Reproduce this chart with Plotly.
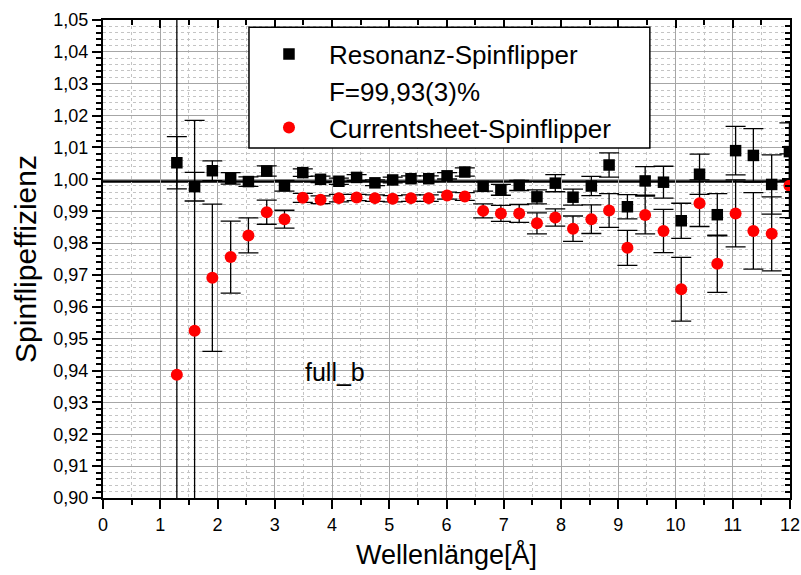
import plotly.graph_objects as go

# Wavelength bins [Å]
wavelength = [1.29, 1.60, 1.91, 2.23, 2.54, 2.86, 3.17, 3.49, 3.80, 4.12,
              4.43, 4.75, 5.06, 5.38, 5.69, 6.01, 6.32, 6.64, 6.95, 7.27,
              7.58, 7.90, 8.21, 8.53, 8.84, 9.16, 9.47, 9.79, 10.10, 10.42,
              10.73, 11.05, 11.36, 11.68, 11.99]

# Resonance spin flipper efficiency and uncertainty
res_eff = [1.0052, 0.9977, 1.0027, 1.0003, 0.9993, 1.0026, 0.9980, 1.0021, 1.0000, 0.9994,
           1.0006, 0.9989, 0.9998, 1.0002, 1.0002, 1.0011, 1.0023, 0.9978, 0.9967, 0.9981,
           0.9945, 0.9988, 0.9944, 0.9979, 1.0045, 0.9914, 0.9995, 0.9991, 0.9870, 1.0016,
           0.9889, 1.0090, 1.0075, 0.9984, 1.0087]
res_err = [0.0082, 0.0045, 0.0031, 0.0018, 0.0015, 0.0016, 0.0017, 0.0012, 0.0010, 0.0010,
           0.0009, 0.0009, 0.0009, 0.0009, 0.0009, 0.0010, 0.0013, 0.0015, 0.0017, 0.0016,
           0.0022, 0.0027, 0.0025, 0.0030, 0.0038, 0.0038, 0.0045, 0.0050, 0.0055, 0.0063,
           0.0066, 0.0076, 0.0084, 0.0093, 0.0090]

# Current-sheet spin flipper efficiency and uncertainty
cs_eff = [0.9387, 0.9525, 0.9691, 0.9756, 0.9824, 0.9897, 0.9875, 0.9942, 0.9936, 0.9941,
          0.9943, 0.9941, 0.9939, 0.9941, 0.9941, 0.9949, 0.9946, 0.9901, 0.9893, 0.9893,
          0.9862, 0.9880, 0.9845, 0.9875, 0.9902, 0.9785, 0.9888, 0.9838, 0.9655, 0.9925,
          0.9735, 0.9893, 0.9838, 0.9829, 0.9980]
cs_err = [0.1200, 0.0660, 0.0231, 0.0113, 0.0055, 0.0038, 0.0028, 0.0014, 0.0012, 0.0012,
          0.0010, 0.0010, 0.0010, 0.0010, 0.0010, 0.0011, 0.0012, 0.0022, 0.0025, 0.0028,
          0.0033, 0.0027, 0.0040, 0.0045, 0.0053, 0.0055, 0.0059, 0.0068, 0.0100, 0.0073,
          0.0090, 0.0105, 0.0120, 0.0116, 0.0100]

# Mean resonance flipper efficiency F = 99,93(3) %
F_RES = 0.9993
F_LABEL = "F=99,93(3)%"

FONT = "Liberation Sans, Arial, sans-serif"
X_RANGE = [0, 12]
Y_RANGE = [0.90, 1.05]

fig = go.Figure()

fig.add_trace(go.Scatter(
    x=wavelength, y=res_eff, mode="markers", name="Resonanz-Spinflipper",
    marker=dict(symbol="square", size=11.5, color="black"),
    error_y=dict(type="data", array=res_err, color="black", thickness=1.3, width=10),
))
fig.add_trace(go.Scatter(
    x=[None], y=[None], mode="markers", name=F_LABEL,
    marker=dict(size=11, color="rgba(0,0,0,0)"),
))
fig.add_trace(go.Scatter(
    x=wavelength, y=cs_eff, mode="markers", name="Currentsheet-Spinflipper",
    marker=dict(symbol="circle", size=12, color="red"),
    error_y=dict(type="data", array=cs_err, color="black", thickness=1.3, width=10),
))
# empty trace so the mirrored top/right axes get drawn
fig.add_trace(go.Scatter(x=[], y=[], xaxis="x2", yaxis="y2", showlegend=False, hoverinfo="skip"))

# mean efficiency line
fig.add_shape(type="line", xref="paper", x0=0, x1=1, yref="y", y0=F_RES, y1=F_RES,
              line=dict(color="black", width=2.5), layer="between")

# legend frame
fig.add_shape(type="rect", xref="paper", yref="paper",
              x0=0.2125, x1=0.796, y0=0.732, y1=0.985,
              line=dict(color="black", width=1.5), fillcolor="white", layer="above")

fig.add_annotation(x=4.06, y=0.9396, xref="x", yref="y", text="full_b", showarrow=False,
                   xanchor="center", yanchor="middle", font=dict(size=25, color="black", family=FONT))

grid_major = "#a6a6a6"
grid_minor = "#c4c4c4"

fig.update_layout(
    width=801, height=575,
    margin=dict(l=103, r=11, t=20, b=77, autoexpand=False),
    paper_bgcolor="white", plot_bgcolor="white",
    separators=",.",
    font=dict(family=FONT, color="black", size=18),
    showlegend=True,
    legend=dict(
        x=0.2125, y=0.978, xanchor="left", yanchor="top",
        bgcolor="rgba(0,0,0,0)", borderwidth=0,
        font=dict(size=26, family=FONT, color="black"),
        itemwidth=70, tracegroupgap=0,
    ),
    xaxis=dict(
        range=X_RANGE, dtick=1, tick0=0, automargin=False,
        showline=True, linecolor="black", linewidth=2,
        ticks="outside", ticklen=9, tickwidth=2, tickcolor="black",
        showgrid=True, gridcolor=grid_major, gridwidth=1,
        zeroline=False,
        minor=dict(dtick=0.5, ticks="outside", ticklen=5, tickwidth=1.5, tickcolor="black",
                   showgrid=True, gridcolor=grid_minor, griddash="dot", gridwidth=1),
        tickfont=dict(size=18),
        title=dict(text="Wellenlänge[Å]", font=dict(size=27), standoff=12),
    ),
    yaxis=dict(
        range=Y_RANGE, dtick=0.01, tick0=0.9, tickformat=".2f", automargin=False,
        showline=True, linecolor="black", linewidth=2,
        ticks="outside", ticklen=9, tickwidth=2, tickcolor="black",
        showgrid=True, gridcolor=grid_major, gridwidth=1,
        zeroline=False,
        minor=dict(dtick=0.002, ticks="outside", ticklen=5, tickwidth=1.5, tickcolor="black",
                   showgrid=True, gridcolor=grid_minor, griddash="dot", gridwidth=1),
        tickfont=dict(size=18),
        title=dict(text="Spinflipeffizienz", font=dict(size=30), standoff=8),
    ),
    xaxis2=dict(
        range=X_RANGE, dtick=1, tick0=0, overlaying="x", side="top", anchor="y2", automargin=False,
        showline=True, linecolor="black", linewidth=2,
        ticks="inside", ticklen=8, tickwidth=2, tickcolor="black",
        showticklabels=False, showgrid=False, zeroline=False,
        minor=dict(dtick=0.5, ticks="inside", ticklen=5, tickwidth=1.5, tickcolor="black", showgrid=False),
    ),
    yaxis2=dict(
        range=Y_RANGE, dtick=0.01, tick0=0.9, overlaying="y", side="right", anchor="x2", automargin=False,
        showline=True, linecolor="black", linewidth=2,
        ticks="inside", ticklen=8, tickwidth=2, tickcolor="black",
        showticklabels=False, showgrid=False, zeroline=False,
        minor=dict(dtick=0.002, ticks="inside", ticklen=5, tickwidth=1.5, tickcolor="black", showgrid=False),
    ),
)

fig.write_html("out.html")
